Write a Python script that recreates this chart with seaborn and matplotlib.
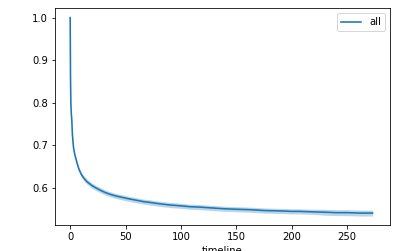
import matplotlib
matplotlib.use("Agg")
import matplotlib.pyplot as plt
import seaborn as sns
import pandas as pd

# Kaplan-Meier style survival estimate
timeline = [0, 0.3, 0.6, 1, 1.5, 2, 3, 4, 5, 6, 8, 10, 12, 15, 18, 20, 24, 27, 31,
            35, 40, 45, 52, 60, 66, 72, 80, 90, 100, 108, 117, 128, 140, 150, 162,
            175, 190, 200, 207, 218, 230, 240, 250, 262, 273]
survival = [1.0, 0.86, 0.80, 0.775, 0.757, 0.725, 0.695, 0.68, 0.67, 0.66, 0.643,
            0.632, 0.624, 0.615, 0.609, 0.605, 0.599, 0.595, 0.590, 0.586, 0.582,
            0.579, 0.575, 0.571, 0.568, 0.566, 0.563, 0.560, 0.558, 0.556, 0.555,
            0.553, 0.551, 0.550, 0.549, 0.547, 0.546, 0.545, 0.545, 0.544, 0.543,
            0.542, 0.542, 0.541, 0.541]
ci_half = [0.0, 0.004, 0.004, 0.005, 0.005, 0.005, 0.005, 0.005, 0.005, 0.005,
           0.005, 0.005, 0.006, 0.006, 0.006, 0.006, 0.006, 0.006, 0.006, 0.006,
           0.006, 0.006, 0.006, 0.006, 0.006, 0.006, 0.006, 0.006, 0.006, 0.006,
           0.006, 0.006, 0.006, 0.006, 0.006, 0.006, 0.006, 0.006, 0.006, 0.006,
           0.007, 0.007, 0.007, 0.007, 0.007]
label = "all"

df = pd.DataFrame({"timeline": timeline, "survival": survival})
lower = [s - h for s, h in zip(survival, ci_half)]
upper = [s + h for s, h in zip(survival, ci_half)]

plt.rcParams.update(matplotlib.rcParamsDefault)
fig = plt.figure(figsize=(413 / 72, 251 / 72), dpi=72)
ax = fig.add_axes([55 / 413, (251 - 225) / 251, (390 - 55) / 413, (225 - 8) / 251])

ax.fill_between(timeline, lower, upper, color="C0", alpha=0.3, linewidth=0)
sns.lineplot(data=df, x="timeline", y="survival", ax=ax, color="C0",
             linewidth=1.6, label=label)

ax.set_xlim(-13.7, 288.7)
ax.set_ylim(0.513, 1.0225)
ax.set_xticks([0, 50, 100, 150, 200, 250])
ax.set_yticks([0.6, 0.7, 0.8, 0.9, 1.0])
ax.set_xlabel("timeline")
ax.set_ylabel("")
ax.legend(loc="upper right")

fig.savefig("out.png", dpi=72)
